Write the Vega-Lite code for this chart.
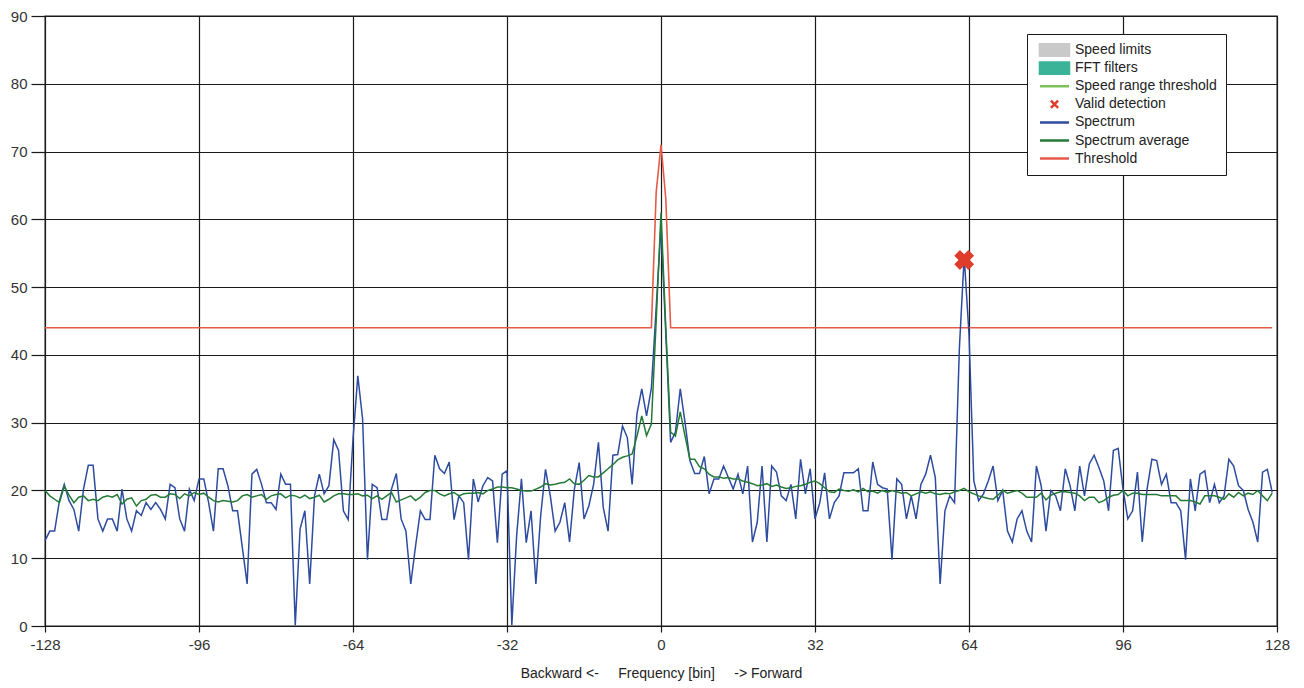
{
"$schema": "https://vega.github.io/schema/vega-lite/v6.json",
"width": 1232, "height": 610,
"autosize": {"type": "none"},
"padding": {"left": 45, "top": 16, "right": 27, "bottom": 62},
"background": "white",
"config": {
 "font": "Liberation Sans",
 "view": {"stroke": "#1a1a1a", "strokeWidth": 1.3},
 "axis": {"gridColor": "#1a1a1a", "gridWidth": 1.2, "gridOpacity": 1, "domain": false, "tickColor": "#1a1a1a", "tickWidth": 1.2, "labelColor": "#333333", "labelFontSize": 15, "titleColor": "#222222", "titleFontSize": 14, "titleFontWeight": "normal", "labelFlush": false, "labelOverlap": false, "labelBound": false}
},
"datasets": {
"spec": [
{"b":-128,"s":12.6,"a":20.0},{"b":-127,"s":14.0,"a":19.2},{"b":-126,"s":14.0,"a":18.7},{"b":-125,"s":18.5,"a":18.2},{"b":-124,"s":20.9,"a":20.6},{"b":-123,"s":18.5,"a":19.3},{"b":-122,"s":17.2,"a":18.2},{"b":-121,"s":14.0,"a":19.0},{"b":-120,"s":20.2,"a":19.2},{"b":-119,"s":23.7,"a":18.5},{"b":-118,"s":23.7,"a":18.7},{"b":-117,"s":15.8,"a":18.5},{"b":-116,"s":14.0,"a":19.0},{"b":-115,"s":15.8,"a":19.2},{"b":-114,"s":15.8,"a":19.0},{"b":-113,"s":14.0,"a":19.4},{"b":-112,"s":20.2,"a":18.0},{"b":-111,"s":15.8,"a":18.7},{"b":-110,"s":14.0,"a":18.9},{"b":-109,"s":17.0,"a":17.7},{"b":-108,"s":16.3,"a":18.5},{"b":-107,"s":18.2,"a":18.7},{"b":-106,"s":17.2,"a":19.3},{"b":-105,"s":18.2,"a":19.4},{"b":-104,"s":17.2,"a":19.0},{"b":-103,"s":15.8,"a":19.0},{"b":-102,"s":20.9,"a":19.5},{"b":-101,"s":20.4,"a":19.4},{"b":-100,"s":15.8,"a":18.8},{"b":-99,"s":14.0,"a":19.5},{"b":-98,"s":20.2,"a":19.2},{"b":-97,"s":18.5,"a":19.7},{"b":-96,"s":21.7,"a":19.4},{"b":-95,"s":21.7,"a":19.6},{"b":-94,"s":18.2,"a":19.0},{"b":-93,"s":14.0,"a":18.5},{"b":-92,"s":23.2,"a":18.3},{"b":-91,"s":23.2,"a":18.5},{"b":-90,"s":20.7,"a":18.4},{"b":-89,"s":17.0,"a":18.3},{"b":-88,"s":17.0,"a":18.5},{"b":-87,"s":11.6,"a":19.2},{"b":-86,"s":6.2,"a":19.4},{"b":-85,"s":22.4,"a":19.0},{"b":-84,"s":23.1,"a":19.2},{"b":-83,"s":20.9,"a":19.4},{"b":-82,"s":18.2,"a":18.7},{"b":-81,"s":18.2,"a":19.2},{"b":-80,"s":17.2,"a":19.4},{"b":-79,"s":22.4,"a":19.5},{"b":-78,"s":20.9,"a":18.9},{"b":-77,"s":20.9,"a":19.3},{"b":-76,"s":0.1,"a":19.2},{"b":-75,"s":14.3,"a":18.9},{"b":-74,"s":17.0,"a":19.3},{"b":-73,"s":6.2,"a":18.8},{"b":-72,"s":19.2,"a":19.0},{"b":-71,"s":22.4,"a":19.3},{"b":-70,"s":19.5,"a":18.3},{"b":-69,"s":20.7,"a":18.7},{"b":-68,"s":27.5,"a":19.2},{"b":-67,"s":25.9,"a":19.5},{"b":-66,"s":17.0,"a":19.5},{"b":-65,"s":15.7,"a":19.4},
{"b":-64,"s":27.6,"a":19.4},{"b":-63,"s":36.9,"a":19.5},{"b":-62,"s":30.5,"a":19.2},{"b":-61,"s":9.8,"a":19.3},{"b":-60,"s":20.9,"a":18.8},{"b":-59,"s":20.4,"a":19.2},{"b":-58,"s":15.7,"a":18.7},{"b":-57,"s":15.7,"a":19.2},{"b":-56,"s":20.2,"a":19.7},{"b":-55,"s":22.5,"a":18.3},{"b":-54,"s":15.8,"a":18.6},{"b":-53,"s":14.0,"a":18.9},{"b":-52,"s":6.2,"a":19.2},{"b":-51,"s":11.8,"a":18.5},{"b":-50,"s":17.0,"a":19.0},{"b":-49,"s":15.7,"a":19.7},{"b":-48,"s":15.7,"a":20.0},{"b":-47,"s":25.2,"a":20.0},{"b":-46,"s":23.2,"a":19.5},{"b":-45,"s":22.5,"a":19.2},{"b":-44,"s":24.2,"a":19.5},{"b":-43,"s":15.7,"a":19.7},{"b":-42,"s":19.2,"a":19.2},{"b":-41,"s":18.2,"a":19.5},{"b":-40,"s":9.8,"a":19.6},{"b":-39,"s":21.7,"a":19.6},{"b":-38,"s":18.3,"a":19.7},{"b":-37,"s":20.7,"a":19.5},{"b":-36,"s":21.9,"a":20.0},{"b":-35,"s":21.4,"a":20.2},{"b":-34,"s":12.3,"a":20.5},{"b":-33,"s":22.4,"a":20.5},{"b":-32,"s":22.9,"a":20.4},{"b":-31,"s":0.1,"a":20.4},{"b":-30,"s":13.3,"a":20.2},{"b":-29,"s":21.7,"a":20.0},{"b":-28,"s":12.3,"a":19.9},{"b":-27,"s":17.0,"a":19.9},{"b":-26,"s":6.2,"a":20.2},{"b":-25,"s":16.3,"a":20.5},{"b":-24,"s":23.1,"a":21.0},{"b":-23,"s":19.2,"a":20.8},{"b":-22,"s":14.0,"a":20.9},{"b":-21,"s":15.3,"a":21.1},{"b":-20,"s":18.2,"a":21.2},{"b":-19,"s":12.4,"a":21.7},{"b":-18,"s":20.2,"a":21.0},{"b":-17,"s":24.1,"a":20.9},{"b":-16,"s":15.8,"a":21.5},{"b":-15,"s":17.7,"a":22.2},{"b":-14,"s":20.9,"a":22.0},{"b":-13,"s":27.1,"a":22.0},{"b":-12,"s":17.5,"a":22.6},{"b":-11,"s":14.0,"a":23.2},{"b":-10,"s":25.2,"a":23.8},{"b":-9,"s":25.3,"a":24.5},{"b":-8,"s":29.5,"a":24.9},{"b":-7,"s":27.8,"a":25.1},{"b":-6,"s":20.9,"a":25.4},{"b":-5,"s":31.3,"a":28.0},{"b":-4,"s":35.0,"a":31.0},{"b":-3,"s":31.0,"a":28.1},{"b":-2,"s":35.1,"a":29.8},{"b":-1,"s":47,"a":45},
{"b":0,"s":59,"a":61},{"b":1,"s":43,"a":44},{"b":2,"s":27.1,"a":28.6},{"b":3,"s":28.6,"a":28.0},{"b":4,"s":35.0,"a":31.6},{"b":5,"s":30.0,"a":28.0},{"b":6,"s":24.4,"a":24.6},{"b":7,"s":22.5,"a":24.6},{"b":8,"s":22.5,"a":23.5},{"b":9,"s":25.0,"a":23.2},{"b":10,"s":19.5,"a":22.4},{"b":11,"s":21.7,"a":22.0},{"b":12,"s":21.7,"a":22.0},{"b":13,"s":23.6,"a":21.8},{"b":14,"s":21.9,"a":21.9},{"b":15,"s":20.2,"a":21.7},{"b":16,"s":22.4,"a":21.7},{"b":17,"s":19.5,"a":21.4},{"b":18,"s":23.6,"a":21.2},{"b":19,"s":12.4,"a":21.0},{"b":20,"s":15.3,"a":20.7},{"b":21,"s":23.6,"a":20.8},{"b":22,"s":12.4,"a":21.0},{"b":23,"s":23.6,"a":20.6},{"b":24,"s":22.7,"a":20.8},{"b":25,"s":19.2,"a":20.5},{"b":26,"s":18.5,"a":20.3},{"b":27,"s":20.9,"a":20.4},{"b":28,"s":15.8,"a":20.6},{"b":29,"s":24.6,"a":20.7},{"b":30,"s":19.5,"a":20.9},{"b":31,"s":23.2,"a":21.2},{"b":32,"s":15.8,"a":21.4},{"b":33,"s":18.2,"a":21.0},{"b":34,"s":22.6,"a":20.4},{"b":35,"s":15.8,"a":19.8},{"b":36,"s":18.2,"a":19.7},{"b":37,"s":19.2,"a":20.2},{"b":38,"s":22.6,"a":20.0},{"b":39,"s":22.6,"a":19.9},{"b":40,"s":22.6,"a":20.1},{"b":41,"s":23.2,"a":19.8},{"b":42,"s":17.0,"a":20.3},{"b":43,"s":17.0,"a":19.8},{"b":44,"s":24.2,"a":19.9},{"b":45,"s":20.9,"a":19.6},{"b":46,"s":20.4,"a":20.0},{"b":47,"s":20.2,"a":19.7},{"b":48,"s":9.8,"a":20.0},{"b":49,"s":21.7,"a":19.8},{"b":50,"s":20.9,"a":19.6},{"b":51,"s":15.8,"a":19.7},{"b":52,"s":19.2,"a":19.2},{"b":53,"s":15.8,"a":19.5},{"b":54,"s":20.9,"a":19.8},{"b":55,"s":22.4,"a":19.6},{"b":56,"s":25.2,"a":19.8},{"b":57,"s":21.9,"a":19.5},{"b":58,"s":6.2,"a":19.4},{"b":59,"s":17.0,"a":19.6},{"b":60,"s":19.2,"a":19.5},{"b":61,"s":18.2,"a":19.8},{"b":62,"s":41,"a":20.0},{"b":63,"s":54.5,"a":20.3},
{"b":64,"s":43,"a":19.8},{"b":65,"s":21.4,"a":19.5},{"b":66,"s":18.5,"a":19.2},{"b":67,"s":19.5,"a":19.0},{"b":68,"s":21.4,"a":18.8},{"b":69,"s":23.6,"a":18.7},{"b":70,"s":18.5,"a":19.3},{"b":71,"s":20.0,"a":20.0},{"b":72,"s":14.0,"a":19.6},{"b":73,"s":12.4,"a":19.8},{"b":74,"s":15.8,"a":20.0},{"b":75,"s":17.0,"a":19.6},{"b":76,"s":14.0,"a":19.0},{"b":77,"s":12.4,"a":19.0},{"b":78,"s":23.6,"a":19.0},{"b":79,"s":20.7,"a":19.6},{"b":80,"s":14.0,"a":18.6},{"b":81,"s":20.0,"a":19.3},{"b":82,"s":19.2,"a":19.6},{"b":83,"s":17.0,"a":19.8},{"b":84,"s":23.2,"a":19.8},{"b":85,"s":20.7,"a":19.7},{"b":86,"s":17.0,"a":19.6},{"b":87,"s":23.6,"a":19.2},{"b":88,"s":19.2,"a":18.5},{"b":89,"s":23.9,"a":19.0},{"b":90,"s":25.2,"a":19.0},{"b":91,"s":23.4,"a":18.2},{"b":92,"s":21.4,"a":18.5},{"b":93,"s":17.0,"a":19.0},{"b":94,"s":25.9,"a":19.3},{"b":95,"s":26.2,"a":19.4},{"b":96,"s":20.2,"a":20.0},{"b":97,"s":15.8,"a":19.2},{"b":98,"s":17.0,"a":19.6},{"b":99,"s":22.7,"a":19.6},{"b":100,"s":12.4,"a":19.4},{"b":101,"s":20.2,"a":19.4},{"b":102,"s":24.6,"a":19.4},{"b":103,"s":24.4,"a":19.4},{"b":104,"s":20.9,"a":19.2},{"b":105,"s":22.4,"a":19.2},{"b":106,"s":18.2,"a":19.2},{"b":107,"s":18.2,"a":19.2},{"b":108,"s":17.0,"a":18.5},{"b":109,"s":9.8,"a":18.5},{"b":110,"s":21.7,"a":18.5},{"b":111,"s":17.0,"a":18.3},{"b":112,"s":22.4,"a":18.0},{"b":113,"s":22.9,"a":19.2},{"b":114,"s":18.2,"a":19.2},{"b":115,"s":20.9,"a":19.2},{"b":116,"s":18.2,"a":19.0},{"b":117,"s":19.2,"a":18.7},{"b":118,"s":24.6,"a":19.5},{"b":119,"s":23.6,"a":19.0},{"b":120,"s":20.7,"a":19.7},{"b":121,"s":20.0,"a":19.2},{"b":122,"s":17.2,"a":19.6},{"b":123,"s":15.3,"a":19.4},{"b":124,"s":12.4,"a":20.0},{"b":125,"s":22.7,"a":19.2},{"b":126,"s":23.1,"a":18.5},{"b":127,"s":19.7,"a":19.6}
],
"thr": [{"b":-128,"t":44},{"b":-2,"t":44},{"b":-1,"t":64},{"b":0,"t":71},{"b":1,"t":63},{"b":2,"t":44},{"b":127,"t":44}],
"det": [{"b":63,"v":54}]
},
"layer": [
 {
  "data": {"name": "thr"},
  "mark": {"type": "line", "strokeWidth": 1.6},
  "encoding": {
   "x": {"field": "b", "type": "quantitative", "scale": {"domain": [-128, 128], "nice": false, "zero": false},
     "axis": {"values": [-128,-96,-64,-32,0,32,64,96,128], "tickSize": 6, "labelPadding": 5, "titlePadding": 14,
       "labelExpr": "(datum.value < 0 ? '-' : '') + abs(datum.value)",
       "title": "Backward <-\u00a0\u00a0\u00a0\u00a0\u00a0Frequency [bin]\u00a0\u00a0\u00a0\u00a0\u00a0-> Forward"}},
   "y": {"field": "t", "type": "quantitative", "scale": {"domain": [0, 90], "nice": false, "zero": false},
     "axis": {"values": [0,10,20,30,40,50,60,70,80,90], "tickSize": 14, "labelPadding": 4, "title": null}},
   "color": {"datum": "Threshold", "type": "nominal",
     "scale": {"domain": ["Speed limits","FFT filters","Speed range threshold","Valid detection","Spectrum","Spectrum average","Threshold"],
               "range": ["#C9C9C9","#3AB399","#7DC15B","#E03C2C","#2E4C9F","#237A35","#E65A48"]},
     "legend": {"orient": "none", "legendX": 982, "legendY": 18, "title": null,
       "strokeColor": "#1a1a1a", "fillColor": "white", "padding": 9,
       "labelFontSize": 14, "labelColor": "#222222", "labelFont": "Liberation Sans", "labelLimit": 400,
       "labelExpr": "datum.label === 'Speed range threshold' ? datum.label + '\u00a0\u00a0\u00a0\u00a0' : datum.label",
       "symbolSize": 144, "rowPadding": 4.1, "clipHeight": 14, "symbolOffset": 11, "labelOffset": 13,
       "encode": {"symbols": {"update": {
         "shape": {"signal": "(datum.value === 'Speed limits' || datum.value === 'FFT filters') ? 'M-2.42,-0.95H2.42V0.95H-2.42Z' : (datum.value === 'Valid detection' ? 'M-0.6,-0.6L0.6,0.6M0.6,-0.6L-0.6,0.6' : 'M-2.42,0H2.42')"},
         "fill": {"signal": "(datum.value === 'Speed limits' || datum.value === 'FFT filters') ? scale('color', datum.value) : 'transparent'"},
         "stroke": {"signal": "(datum.value === 'Speed limits' || datum.value === 'FFT filters') ? 'transparent' : scale('color', datum.value)"},
         "strokeWidth": {"value": 2.5},
         "size": {"value": 144},
         "opacity": {"value": 1},
         "fillOpacity": {"value": 1},
         "strokeOpacity": {"value": 1}
       }}}}
   }
  }
 },
 {
  "data": {"name": "spec"},
  "mark": {"type": "line", "strokeWidth": 1.5},
  "encoding": {
   "x": {"field": "b", "type": "quantitative"},
   "y": {"field": "s", "type": "quantitative"},
   "color": {"datum": "Spectrum", "type": "nominal",
     "scale": {"domain": ["Speed limits","FFT filters","Speed range threshold","Valid detection","Spectrum","Spectrum average","Threshold"],
               "range": ["#C9C9C9","#3AB399","#7DC15B","#E03C2C","#2E4C9F","#237A35","#E65A48"]}}
  }
 },
 {
  "data": {"name": "spec"},
  "mark": {"type": "line", "strokeWidth": 1.5},
  "encoding": {
   "x": {"field": "b", "type": "quantitative"},
   "y": {"field": "a", "type": "quantitative"},
   "color": {"datum": "Spectrum average", "type": "nominal",
     "scale": {"domain": ["Speed limits","FFT filters","Speed range threshold","Valid detection","Spectrum","Spectrum average","Threshold"],
               "range": ["#C9C9C9","#3AB399","#7DC15B","#E03C2C","#2E4C9F","#237A35","#E65A48"]}}
  }
 },
 {
  "data": {"name": "det"},
  "mark": {"type": "point", "shape": "cross", "angle": 45, "filled": true, "size": 400, "opacity": 1},
  "encoding": {
   "x": {"field": "b", "type": "quantitative"},
   "y": {"field": "v", "type": "quantitative"},
   "color": {"datum": "Valid detection", "type": "nominal",
     "scale": {"domain": ["Speed limits","FFT filters","Speed range threshold","Valid detection","Spectrum","Spectrum average","Threshold"],
               "range": ["#C9C9C9","#3AB399","#7DC15B","#E03C2C","#2E4C9F","#237A35","#E65A48"]}}
  }
 }
]
}
